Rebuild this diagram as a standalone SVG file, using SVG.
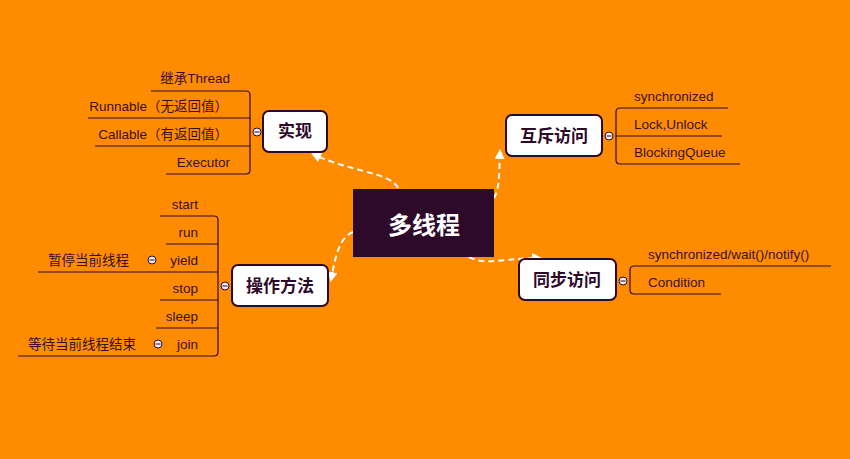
<svg xmlns="http://www.w3.org/2000/svg" width="850" height="459" viewBox="0 0 850 459">
<defs>
<style>
.bg{fill:#ff8c00}
.node rect{fill:#fff;stroke:#2d0a2a;stroke-width:2}
.node text{font-family:"Noto Sans CJK SC","Liberation Sans",sans-serif;font-weight:bold;font-size:17px;fill:#2d0a2a;text-anchor:middle}
.leaf{font-family:"Liberation Sans","Noto Sans CJK SC",sans-serif;font-size:13.5px;fill:#3a1020}
.br{fill:none;stroke:#2d0a2a;stroke-width:1.2}
.col circle{fill:#f0ecee;stroke:#2d0a2a;stroke-width:1}
.col line{stroke:#2d0a2a;stroke-width:1}
.conn{fill:none;stroke:#fff;stroke-width:2;stroke-dasharray:6 4}
</style>
<marker id="ah" viewBox="0 0 10 10" refX="8" refY="5" markerWidth="5" markerHeight="5" orient="auto" markerUnits="strokeWidth">
<path d="M0,0 L10,5 L0,10 z" fill="#fff"/>
</marker>
</defs>
<rect class="bg" x="0" y="0" width="850" height="459"/>

<g id="connectors">
<path class="conn" d="M398,188 C390,172 350,172 313,154" marker-end="url(#ah)"/>
<path class="conn" d="M494,198 C500,188 499,172 500,151" marker-end="url(#ah)"/>
<path class="conn" d="M353,232 C338,238 335,260 331,280" marker-end="url(#ah)"/>
<path class="conn" d="M469,257 C485,266 505,258 540,258" marker-end="url(#ah)"/>
</g>

<g id="center">
<rect x="353" y="189" width="141" height="68" fill="#2d0a2a"/>
<text x="424" y="234" font-family="'Noto Sans CJK SC','Liberation Sans',sans-serif" font-weight="bold" font-size="24" fill="#fff" text-anchor="middle">多线程</text>
</g>

<g id="shixian">
<g class="node"><rect x="263" y="111" width="64" height="41" rx="6"/><text x="295" y="137">实现</text></g>
<path class="br" d="M151,91 H246 Q250,91 250,95 V170 Q250,174 246,174 H166 M88,118 H250 M95,146 H250"/>
<g class="col"><circle cx="257" cy="132" r="4"/><line x1="254.5" y1="132" x2="259.5" y2="132"/></g>
<text class="leaf" x="230" y="83" text-anchor="end">继承Thread</text>
<text class="leaf" x="228" y="111" text-anchor="end">Runnable（无返回值）</text>
<text class="leaf" x="228" y="139" text-anchor="end">Callable（有返回值）</text>
<text class="leaf" x="230" y="167" text-anchor="end">Executor</text>
</g>

<g id="huchi">
<g class="node"><rect x="506" y="115" width="96" height="41" rx="6"/><text x="554" y="142">互斥访问</text></g>
<path class="br" d="M728,108 H620 Q616,108 616,112 V160 Q616,164 620,164 H740 M616,136 H722"/>
<g class="col"><circle cx="609" cy="136" r="4"/><line x1="606.5" y1="136" x2="611.5" y2="136"/></g>
<text class="leaf" x="634" y="101">synchronized</text>
<text class="leaf" x="634" y="129">Lock,Unlock</text>
<text class="leaf" x="634" y="157">BlockingQueue</text>
</g>

<g id="caozuo">
<g class="node"><rect x="232" y="265" width="96" height="41" rx="6"/><text x="280" y="292">操作方法</text></g>
<path class="br" d="M160,216 H214 Q218,216 218,220 V352 Q218,356 214,356 H18 M166,244 H218 M38,272 H218 M160,300 H218 M156,328 H218"/>
<g class="col"><circle cx="225" cy="286" r="4"/><line x1="222.5" y1="286" x2="227.5" y2="286"/></g>
<text class="leaf" x="198" y="209" text-anchor="end">start</text>
<text class="leaf" x="198" y="237" text-anchor="end">run</text>
<text class="leaf" x="198" y="265" text-anchor="end">yield</text>
<text class="leaf" x="198" y="293" text-anchor="end">stop</text>
<text class="leaf" x="198" y="321" text-anchor="end">sleep</text>
<text class="leaf" x="198" y="349" text-anchor="end">join</text>
<g class="col"><circle cx="152" cy="260" r="4"/><line x1="149.5" y1="260" x2="154.5" y2="260"/></g>
<text class="leaf" x="48" y="265">暂停当前线程</text>
<g class="col"><circle cx="158" cy="344" r="4"/><line x1="155.5" y1="344" x2="160.5" y2="344"/></g>
<text class="leaf" x="28" y="349">等待当前线程结束</text>
</g>

<g id="tongbu">
<g class="node"><rect x="519" y="259" width="97" height="41" rx="6"/><text x="567" y="286">同步访问</text></g>
<path class="br" d="M831,266 H634 Q630,266 630,270 V290 Q630,294 634,294 H721"/>
<g class="col"><circle cx="623" cy="281" r="4"/><line x1="620.5" y1="281" x2="625.5" y2="281"/></g>
<text class="leaf" x="648" y="259">synchronized/wait()/notify()</text>
<text class="leaf" x="648" y="287">Condition</text>
</g>
</svg>
